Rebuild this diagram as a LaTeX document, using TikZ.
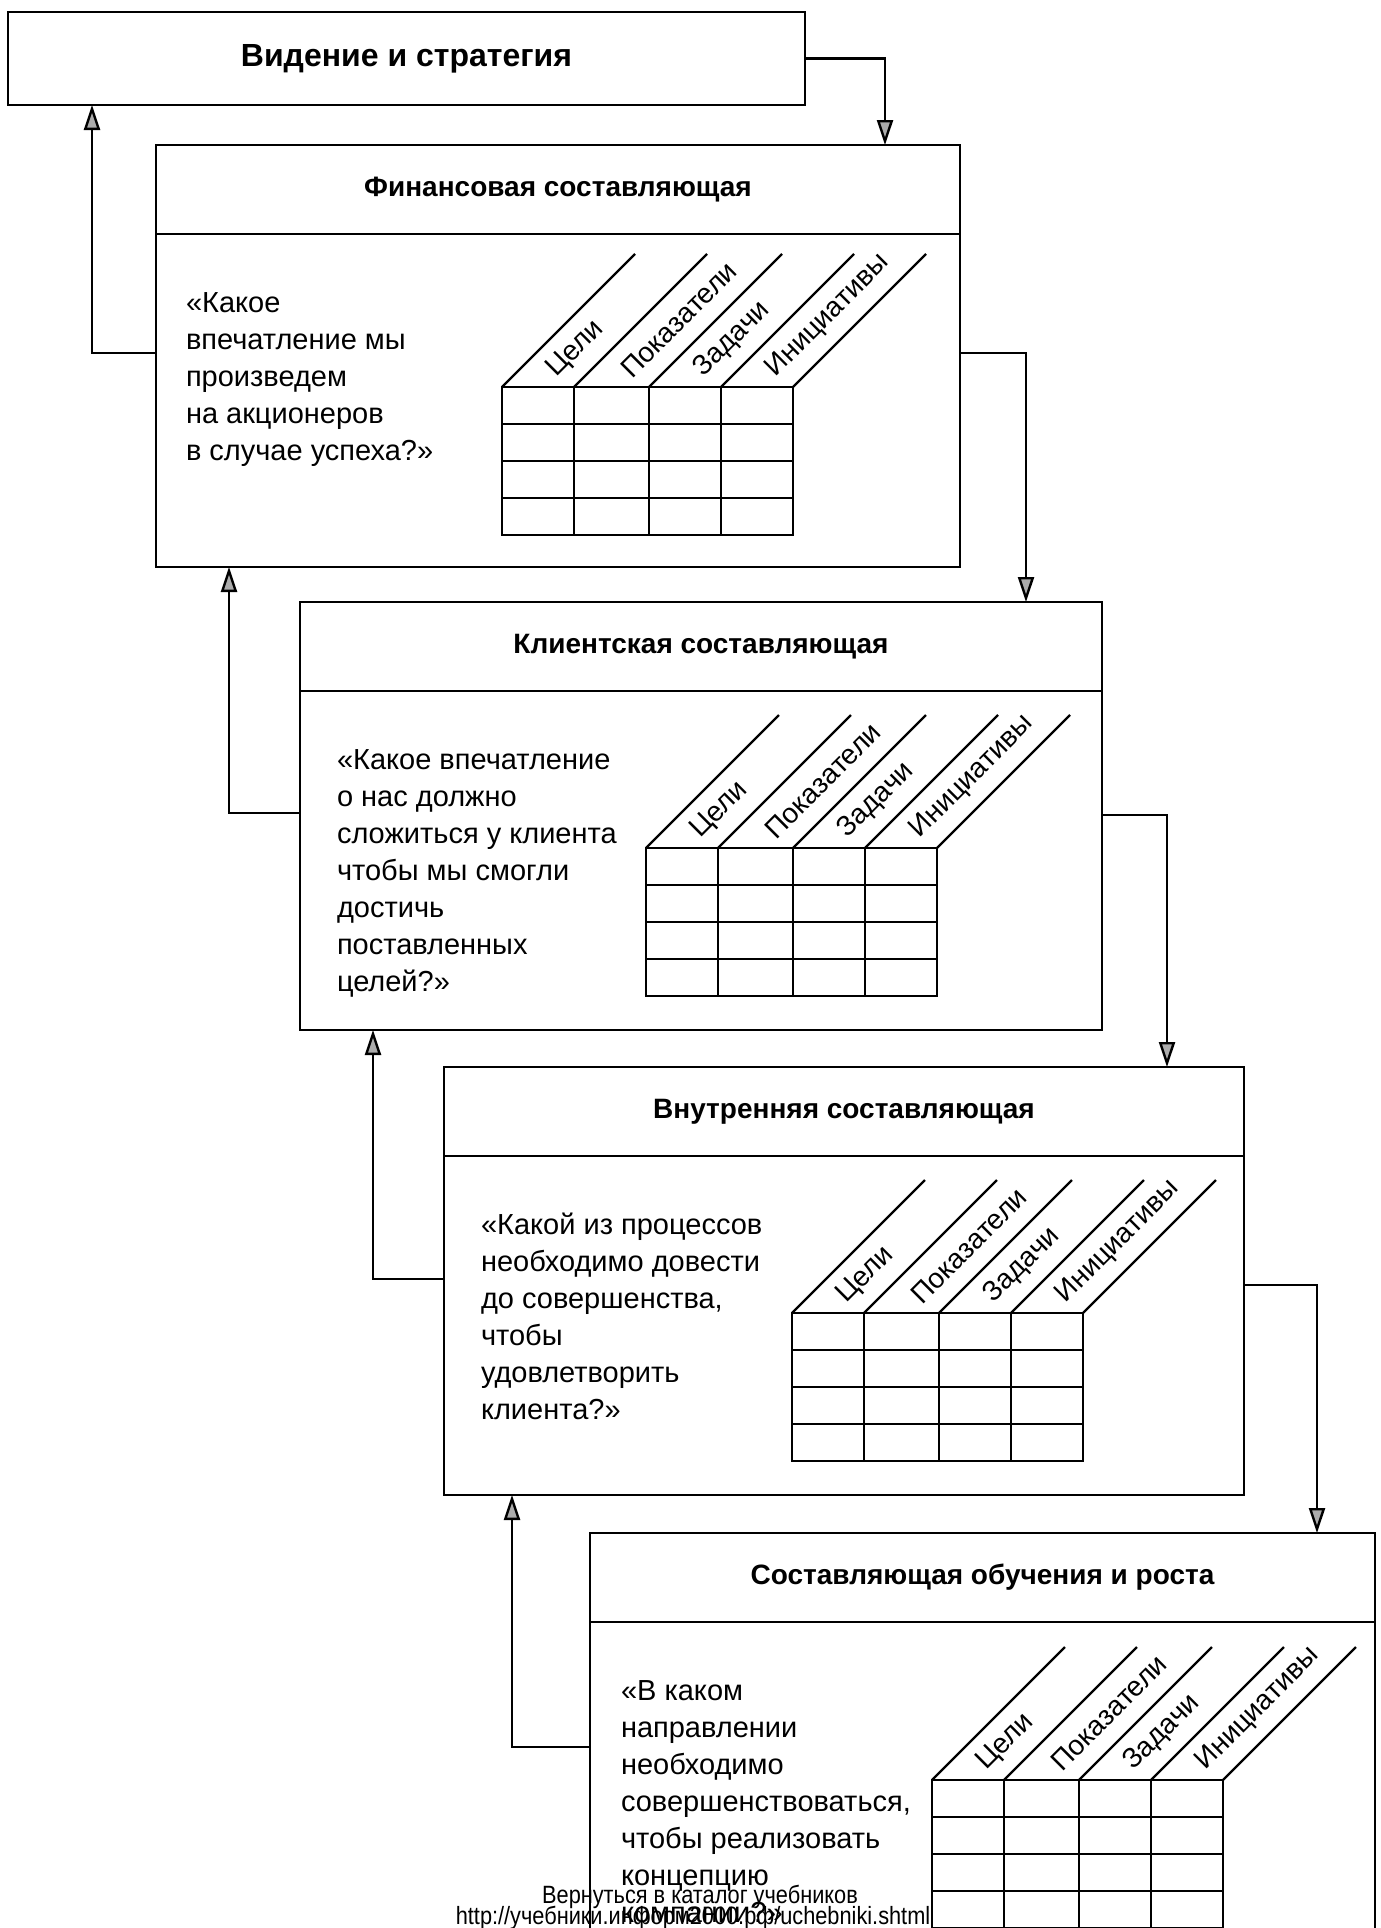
\documentclass[tikz,border=0pt]{standalone}
\usepackage{fontspec}
\setmainfont{Liberation Sans}
\newfontfamily\wmfont{Liberation Sans}[FakeStretch=0.87]
\usetikzlibrary{arrows.meta,calc}

\newcommand\panelbox[8]{%
  \node[box, minimum width=#4pt, minimum height=#5pt] (#1) at (#2,#3) {};
  \draw[ln] ([yshift=-89pt]#1.north west) -- ([yshift=-89pt]#1.north east);
  \node[titlefont] (#1-title) at ($(#1.north)+(0,44.5)$) {#6};
  \foreach \l [count=\i] in {#8} {
    \node[bodyfont, anchor=base west] (#1-line\i) at ($(#1.north west)+(#7,130+37*\i)$) {\l};
  }
}
\newcommand\gridtab[3]{%
  \draw[ln] (#2,#3) rectangle ++(291,148);
  \foreach \c in {72,147,219} \draw[ln] (#2+\c,#3) -- ++(0,148);
  \foreach \r in {37,74,111} \draw[ln] (#2,#3+\r) -- ++(291,0);
  \foreach \c in {0,72,147,219,291} \draw[ln] (#2+\c,#3) -- ++(133,-133);
  \foreach \a/\b/\t [count=\k] in {0/72/Цели,72/147/Показатели,147/219/Задачи,219/291/Инициативы}
    \node[colhead, anchor=west, rotate=45] (#1-h\k) at (#2+\a/2+\b/2+14,#3-14) {\t};
}

\begin{document}
\begin{tikzpicture}[x=1pt,y=-1pt,
  every node/.style={inner sep=0pt,outer sep=0pt},
  box/.style={draw,line width=2.4pt,rectangle,anchor=north west},
  ln/.style={line width=2.3pt},
  arr/.style={line width=2.4pt,-{Triangle[width=16pt,length=25pt,fill=gray!65]}},
  bodyfont/.style={font=\fontsize{29}{34}\selectfont},
  titlefont/.style={font=\bfseries\fontsize{28}{32}\selectfont},
  colhead/.style={font=\fontsize{28}{32}\selectfont},
  wm/.style={font=\wmfont\fontsize{25}{28}\selectfont}]
\useasboundingbox (0,0) rectangle (1381,1928);
\clip (0,0) rectangle (1381,1928);

\node[box,minimum width=797pt,minimum height=93pt,font=\bfseries\fontsize{32}{38}\selectfont] (vision) at (8,12) {Видение и стратегия};

\panelbox{fin}{156}{145}{804}{422}{Финансовая составляющая}{30}{{«Какое},{впечатление мы},{произведем},{на акционеров},{в случае успеха?»}}
\gridtab{fin}{502}{387}

\panelbox{client}{300}{602}{802}{428}{Клиентская составляющая}{37}{{«Какое впечатление},{о нас должно},{сложиться у клиента},{чтобы мы смогли},{достичь},{поставленных},{целей?»}}
\gridtab{client}{646}{848}

\panelbox{internal}{444}{1067}{800}{428}{Внутренняя составляющая}{37}{{«Какой из процессов},{необходимо довести},{до совершенства,},{чтобы},{удовлетворить},{клиента?»}}
\gridtab{internal}{792}{1313}

\panelbox{learn}{590}{1533}{785}{428}{Составляющая обучения и роста}{31}{{«В каком},{направлении},{необходимо},{совершенствоваться,},{чтобы реализовать},{концепцию},{компании?»}}
\gridtab{learn}{932}{1780}

\draw[arr] (vision.east) -| ([xshift=729pt]fin.north west);
\draw[arr] ([yshift=-208pt]fin.north west) -| ([xshift=84pt]vision.south west);
\draw[arr] ([yshift=-208pt]fin.north east) -| ([xshift=726pt]client.north west);
\draw[arr] ([yshift=-211pt]client.north west) -| ([xshift=73pt]fin.south west);
\draw[arr] ([yshift=-213pt]client.north east) -| ([xshift=723pt]internal.north west);
\draw[arr] ([yshift=-212pt]internal.north west) -| ([xshift=73pt]client.south west);
\draw[arr] ([yshift=-218pt]internal.north east) -| ([xshift=727pt]learn.north west);
\draw[arr] ([yshift=-214pt]learn.north west) -| ([xshift=68pt]internal.south west);

\node[wm,anchor=base] (wm1) at (700,1903) {Вернуться в каталог учебников};
\node[wm,anchor=base] (wm2) at (693,1924) {http://учебники.информ2000.рф/uchebniki.shtml};
\end{tikzpicture}
\end{document}
